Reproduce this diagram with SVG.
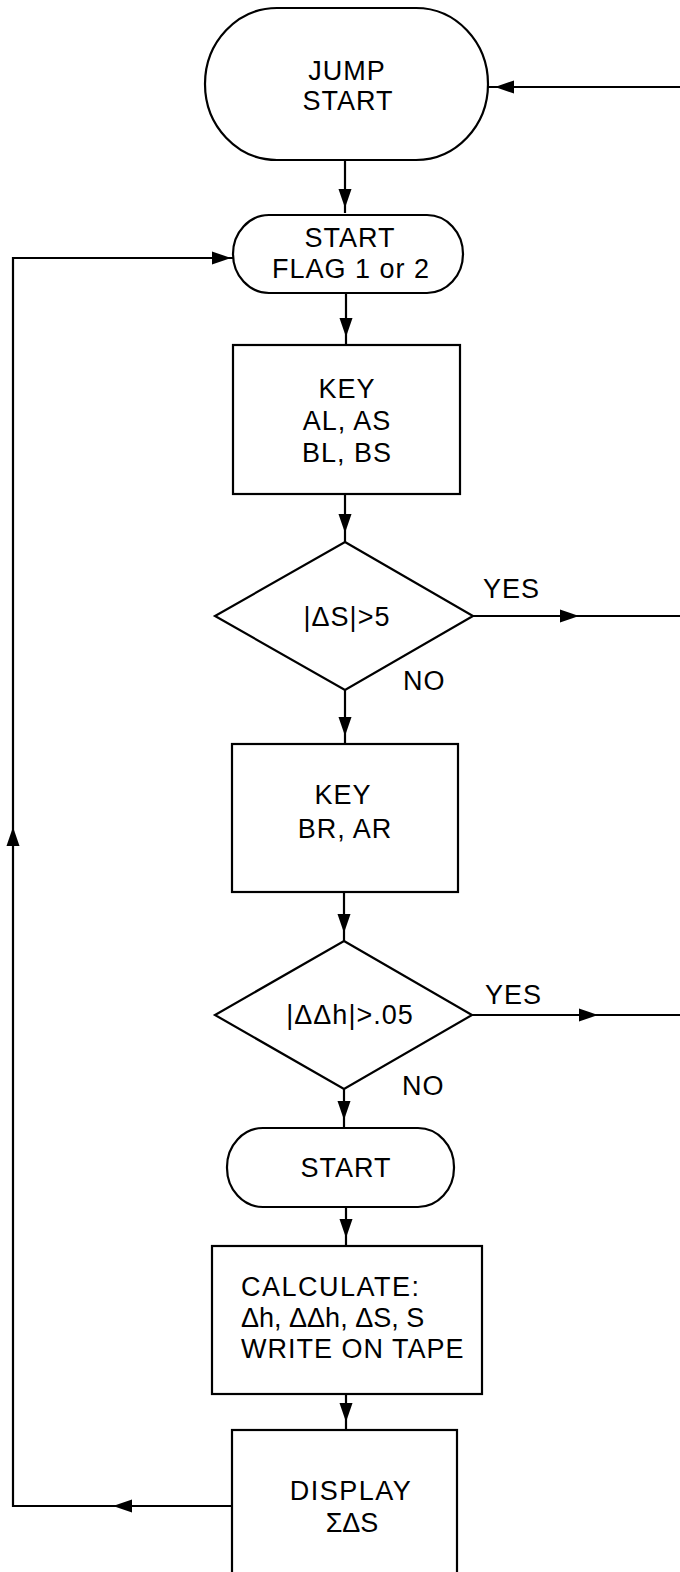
<svg xmlns="http://www.w3.org/2000/svg" xmlns:xlink="http://www.w3.org/1999/xlink" width="680" height="1572" viewBox="0 0 680 1572">
<style>
.shp{fill:#fff;stroke:#000;stroke-width:2.2}
.ln{fill:none;stroke:#000;stroke-width:2.2}
.t{font-family:"Liberation Sans",Arial,Helvetica,sans-serif;font-size:27px;letter-spacing:1px;fill:#000}
.c{text-anchor:middle}
</style>
<defs>
<path id="ah" d="M0,0 L-19,-6.5 L-19,6.5 Z" fill="#000"/>
</defs>
<rect width="680" height="1572" fill="#fff"/>
<g id="connectors">
<path class="ln" d="M680,87 H488"/>
<use xlink:href="#ah" href="#ah" transform="translate(495,87) rotate(180)"/>
<path class="ln" d="M345,160 V213"/>
<use xlink:href="#ah" href="#ah" transform="translate(345,208) rotate(90)"/>
<path class="ln" d="M346,293 V345"/>
<use xlink:href="#ah" href="#ah" transform="translate(346,337) rotate(90)"/>
<path class="ln" d="M345,494 V542"/>
<use xlink:href="#ah" href="#ah" transform="translate(345,533) rotate(90)"/>
<path class="ln" d="M473,616 H680"/>
<use xlink:href="#ah" href="#ah" transform="translate(579,616)"/>
<path class="ln" d="M345,690 V744"/>
<use xlink:href="#ah" href="#ah" transform="translate(345,736) rotate(90)"/>
<path class="ln" d="M344,892 V941"/>
<use xlink:href="#ah" href="#ah" transform="translate(344,933) rotate(90)"/>
<path class="ln" d="M472,1015 H680"/>
<use xlink:href="#ah" href="#ah" transform="translate(598,1015)"/>
<path class="ln" d="M344,1089 V1128"/>
<use xlink:href="#ah" href="#ah" transform="translate(344,1120) rotate(90)"/>
<path class="ln" d="M346,1207 V1246"/>
<use xlink:href="#ah" href="#ah" transform="translate(346,1238) rotate(90)"/>
<path class="ln" d="M346,1394 V1430"/>
<use xlink:href="#ah" href="#ah" transform="translate(346,1422) rotate(90)"/>
<path class="ln" d="M232,1506 H13 V258 H233"/>
<use xlink:href="#ah" href="#ah" transform="translate(113,1506) rotate(180)"/>
<use xlink:href="#ah" href="#ah" transform="translate(13,827) rotate(-90)"/>
<use xlink:href="#ah" href="#ah" transform="translate(231,258)"/>
</g>
<g id="jump-start">
<rect class="shp" x="205" y="8" width="283" height="152" rx="72" ry="76"/>
<text class="t c" x="347" y="80">JUMP</text>
<text class="t c" x="348" y="110">START</text>
</g>
<g id="start-flag">
<rect class="shp" x="233" y="215" width="230" height="78" rx="36" ry="39"/>
<text class="t c" x="350" y="247">START</text>
<text class="t c" x="351" y="278">FLAG 1 or 2</text>
</g>
<g id="key-al-as">
<rect class="shp" x="233" y="345" width="227" height="149"/>
<text class="t c" x="347" y="398">KEY</text>
<text class="t c" x="347" y="430">AL, AS</text>
<text class="t" x="302" y="462">BL, BS</text>
</g>
<g id="decision-ds">
<polygon class="shp" points="345,542 473,616 345,690 215,616"/>
<text class="t c" x="347" y="626">|ΔS|&gt;5</text>
<text class="t" x="483" y="598">YES</text>
<text class="t" x="403" y="690">NO</text>
</g>
<g id="key-br-ar">
<rect class="shp" x="232" y="744" width="226" height="148"/>
<text class="t c" x="343" y="804">KEY</text>
<text class="t c" x="345" y="838">BR, AR</text>
</g>
<g id="decision-ddh">
<polygon class="shp" points="344,941 472,1015 344,1089 215,1015"/>
<text class="t c" x="350" y="1024">|ΔΔh|&gt;.05</text>
<text class="t" x="485" y="1004">YES</text>
<text class="t" x="402" y="1095">NO</text>
</g>
<g id="start">
<rect class="shp" x="227" y="1128" width="227" height="79" rx="36" ry="39"/>
<text class="t c" x="346" y="1177">START</text>
</g>
<g id="calculate">
<rect class="shp" x="212" y="1246" width="270" height="148"/>
<text class="t" x="241" y="1296" style="letter-spacing:1.5px">CALCULATE:</text>
<text class="t" x="241" y="1327" style="letter-spacing:0">Δh, ΔΔh, ΔS, S</text>
<text class="t" x="241" y="1358">WRITE ON TAPE</text>
</g>
<g id="display">
<rect class="shp" x="232" y="1430" width="225" height="160"/>
<text class="t c" x="351" y="1500" style="letter-spacing:1.5px">DISPLAY</text>
<text class="t c" x="352" y="1532" style="letter-spacing:0">ΣΔS</text>
</g>
</svg>
